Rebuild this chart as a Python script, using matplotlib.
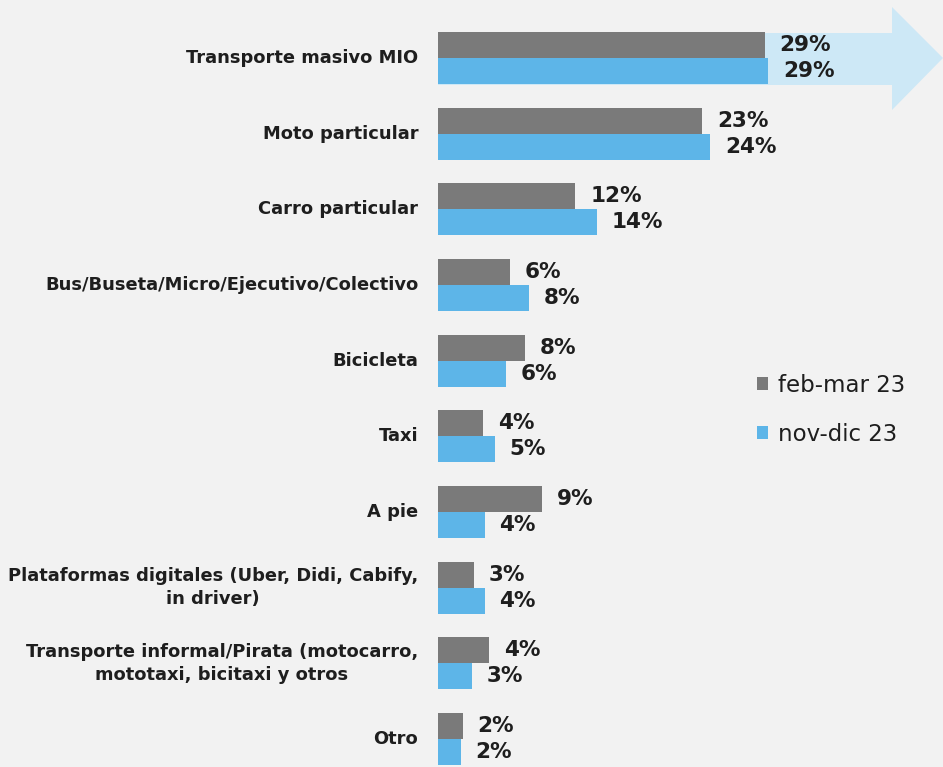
import numpy as np
import matplotlib
matplotlib.use('Agg')
import matplotlib.pyplot as plt
from matplotlib.patches import Polygon

categories = ['Transporte masivo MIO', 'Moto particular', 'Carro particular',
              'Bus/Buseta/Micro/Ejecutivo/Colectivo', 'Bicicleta', 'Taxi', 'A pie',
              'Plataformas digitales (Uber, Didi, Cabify,\nin driver)',
              'Transporte informal/Pirata (motocarro,\nmototaxi, bicitaxi y otros',
              'Otro']
feb_mar = [28.8, 23.3, 12.1, 6.3, 7.7, 4.0, 9.2, 3.2, 4.5, 2.2]
nov_dic = [29.1, 24.0, 14.0, 8.0, 6.0, 5.0, 4.1, 4.1, 3.0, 2.0]
feb_labels = ['29%', '23%', '12%', '6%', '8%', '4%', '9%', '3%', '4%', '2%']
nov_labels = ['29%', '24%', '14%', '8%', '6%', '5%', '4%', '4%', '3%', '2%']
series = ['feb-mar 23', 'nov-dic 23']

gray = '#7a7a7a'
blue = '#5db5e8'
bg = '#f2f2f2'
txt = '#1e1e1e'

fig = plt.figure(figsize=(9.43, 7.67), dpi=100, facecolor=bg)

# background arrow (figure pixels -> fraction)
W, H = 943, 767
arrow_px = [(438, 33), (892, 33), (892, 7), (943, 58), (892, 110), (892, 85), (438, 85)]
arrow = Polygon([(x / W, 1 - y / H) for x, y in arrow_px], closed=True,
                transform=fig.transFigure, facecolor='#cde8f6', edgecolor='none', zorder=-1)
fig.patches.append(arrow)

ax = fig.add_axes([438 / W, 0, 1 - 438 / W, 1])
ax.set_facecolor('none')

y = np.arange(len(categories))
h = 0.343
ax.barh(y - h / 2, feb_mar, height=h, color=gray, label=series[0])
ax.barh(y + h / 2, nov_dic, height=h, color=blue, label=series[1])

ax.set_xlim(0, (W - 438) / 11.35)
ax.set_ylim(9 + (767 - 739) / 75.7, -58 / 75.7)

for i in range(len(categories)):
    ax.text(feb_mar[i] + 1.3, y[i] - h / 2, feb_labels[i], va='center', ha='left',
            fontsize=15.5, fontweight='bold', color=txt)
    ax.text(nov_dic[i] + 1.3, y[i] + h / 2, nov_labels[i], va='center', ha='left',
            fontsize=15.5, fontweight='bold', color=txt)
    ax.text(-1.75, y[i], categories[i], va='center', ha='right', fontsize=12.9,
            fontweight='bold', color=txt, multialignment='center', linespacing=1.35)

ax.set_xticks([])
ax.set_yticks([])
for s in ax.spines.values():
    s.set_visible(False)

leg = ax.legend(loc='upper left', bbox_to_anchor=((736 - 438) / (W - 438), 1 - 353 / H),
                frameon=False, fontsize=16.5, handlelength=0.5, handleheight=0.5,
                handletextpad=0.45, labelspacing=1.15, labelcolor=txt)

fig.savefig('out.png', dpi=100, facecolor=bg)
